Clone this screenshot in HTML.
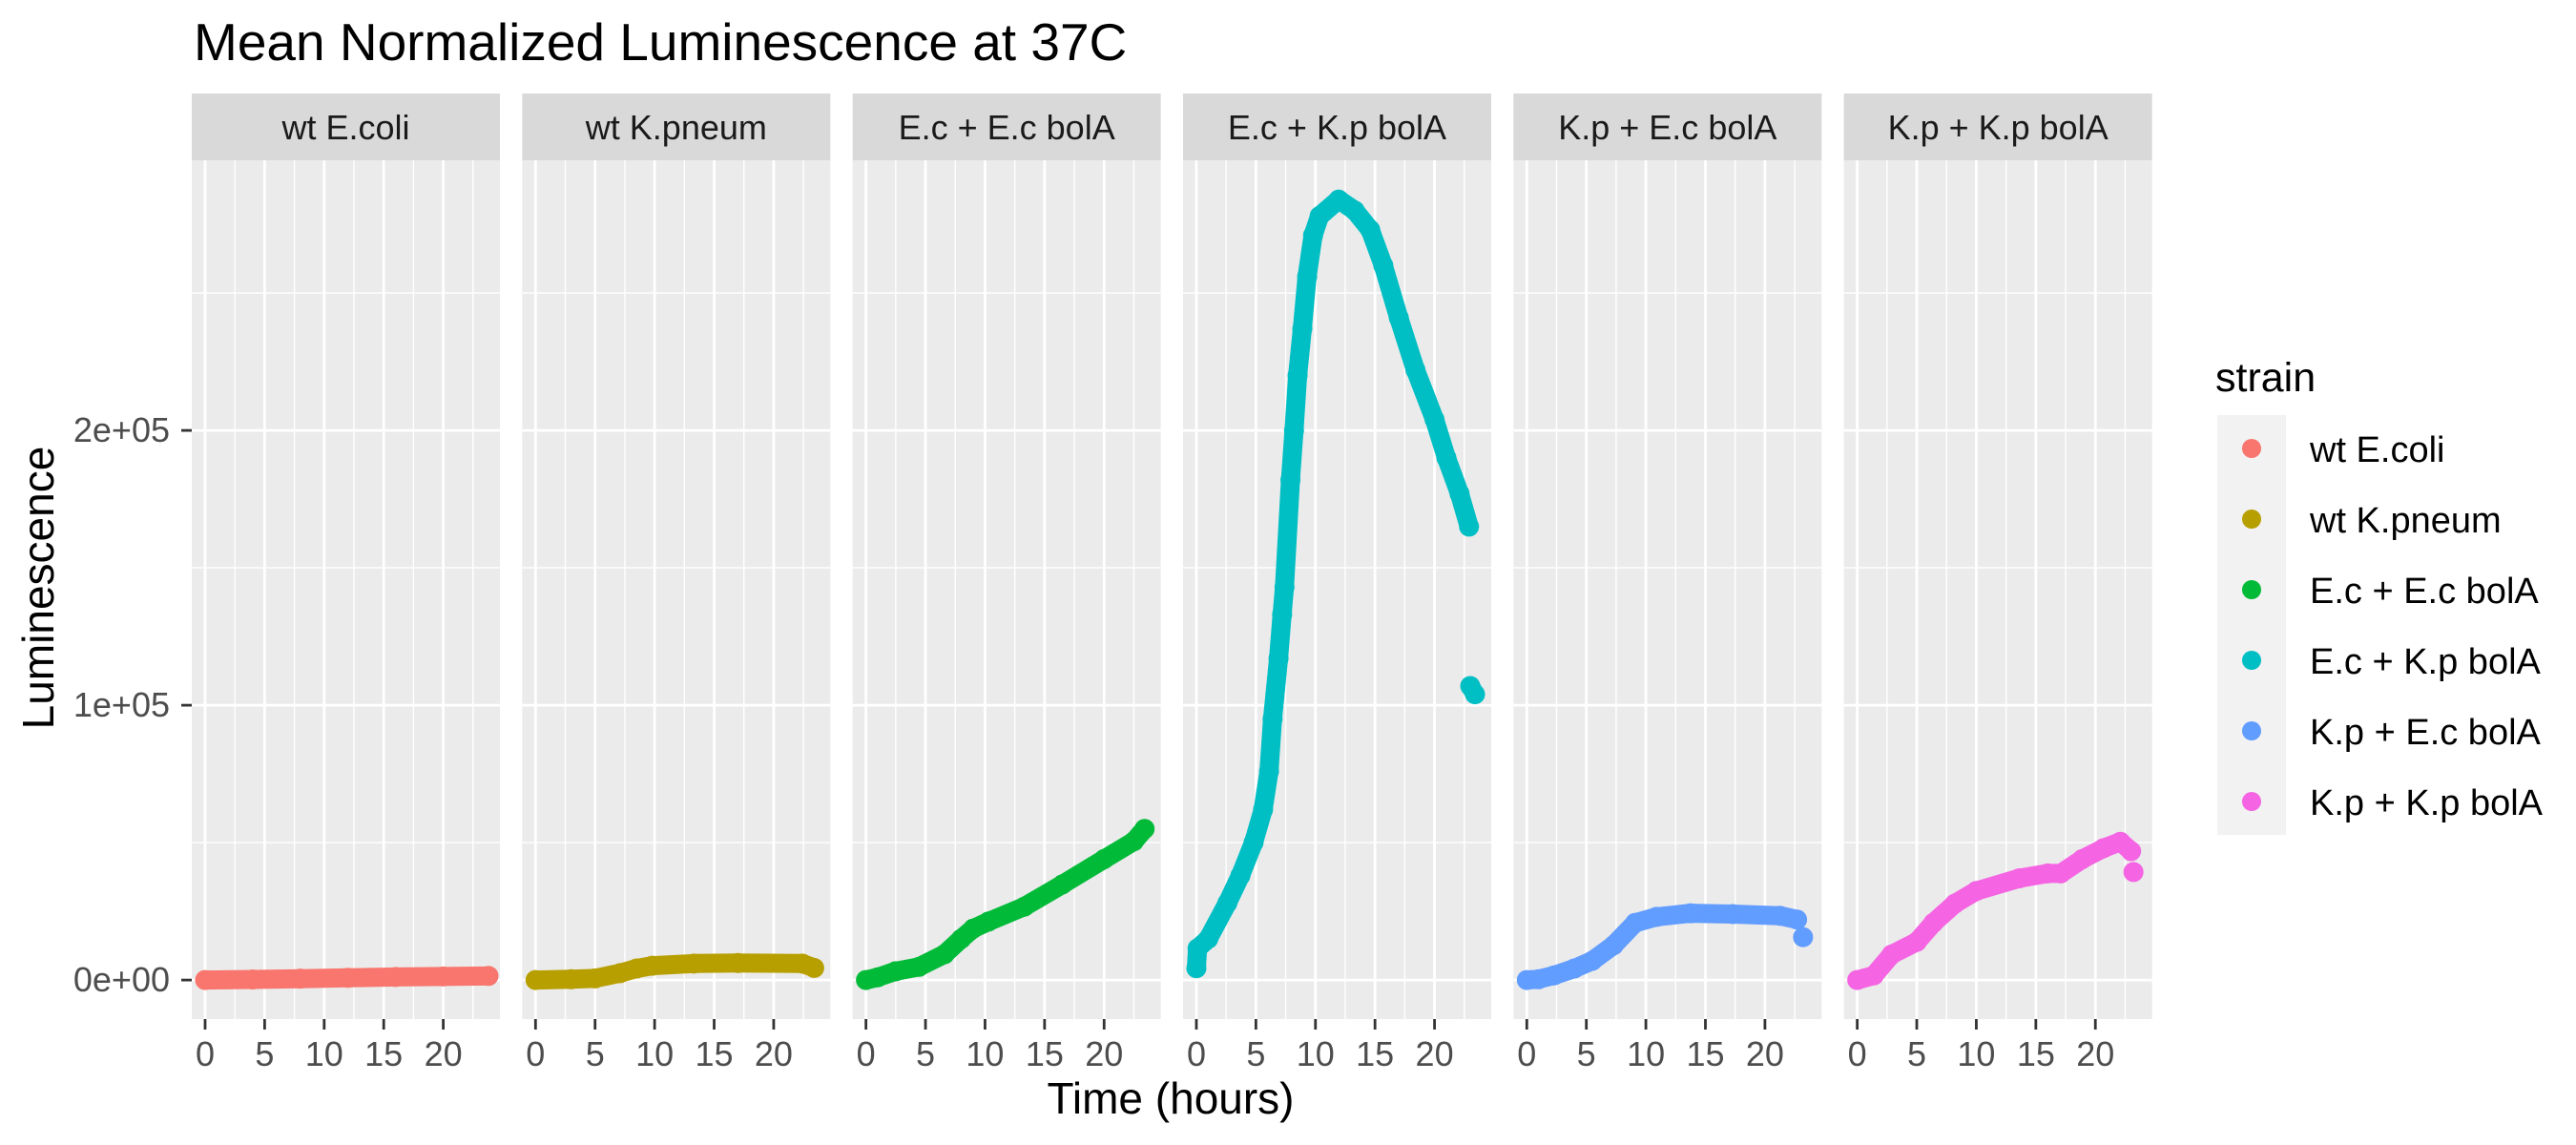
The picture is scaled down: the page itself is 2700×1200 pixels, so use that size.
<!DOCTYPE html>
<html><head><meta charset="utf-8"><style>
html,body{margin:0;padding:0;background:#fff;}
svg{display:block;font-family:"Liberation Sans",sans-serif;}
</style></head><body>
<svg id="chart" width="2700" height="1200" viewBox="0 0 2700 1200" xmlns="http://www.w3.org/2000/svg">
<rect width="2700" height="1200" fill="#ffffff"/>
<text x="203" y="63" font-size="55" fill="#000">Mean Normalized Luminescence at 37C</text>
<text transform="translate(56,616) rotate(-90)" text-anchor="middle" font-size="46" fill="#000">Luminescence</text>
<text x="1227" y="1167" text-anchor="middle" font-size="46" fill="#000">Time (hours)</text>
<g id="panels"></g>
<g id="legend"></g>
</svg>
<script>
const strains = ["wt E.coli","wt K.pneum","E.c + E.c bolA","E.c + K.p bolA","K.p + E.c bolA","K.p + K.p bolA"];
const colors = ["#F8766D","#B79F00","#00BA38","#00BFC4","#619CFF","#F564E3"];
const xTicks = [0,5,10,15,20];
const xTickLabels = ["0","5","10","15","20"];
const yTicks = [0,100000,200000];
const yTickLabels = ["0e+00","1e+05","2e+05"];
// series data (hours, luminescence)
const hours1 = [0,4,8,12,16,20,23.8];
const lum1 = [0,200,500,800,1100,1300,1500];
const hours2 = [0,3,5,7.1,8.5,9.8,13.3,17,22.4,23.4];
const lum2 = [0,300,600,2500,4200,5200,6000,6200,6000,4400];
const hours3 = [0,1,2.5,4.45,6.6,8,9,10.3,13.3,16.5,20,22.5,23.4];
const lum3 = [0,1000,3200,4800,9400,15000,18700,21300,26700,34800,44000,50500,55000];
const hours4 = [0,0.1,1,2.6,3.7,4.8,5.6,6.1,6.4,6.9,7.2,7.4,7.9,8.2,8.5,8.9,9.3,9.8,10.35,11.95,13.3,14.6,15.7,17,18.4,20,21,22.1,22.9];
const lum4 = [4300,11500,15000,28000,38000,50000,62000,76000,95000,117000,133000,143000,182000,200000,220000,237000,256000,271000,278000,284000,280000,273000,260000,241000,222000,204000,190000,177000,165000];
const hours4b = [23.0,23.4];
const lum4b = [107000,104000];
const hours5 = [0,1,2.3,4,5.5,7.3,9.1,10.9,13.75,17.3,21.25,22.7];
const lum5 = [0,300,1700,4200,7000,12700,20800,23000,24300,24000,23400,22000];
const hours5b = [23.2];
const lum5b = [15600];
const hours6 = [0,1.4,2.9,5,6.4,8.2,10,13.6,16,17.1,18.9,20.7,22.1,23];
const lum6 = [0,1700,9300,13900,20800,27800,32400,37000,38800,38800,44000,48000,50300,46900];
const hours6b = [23.2];
const lum6b = [39300];
const seriesHours = [[hours1],[hours2],[hours3],[hours4,hours4b],[hours5,hours5b],[hours6,hours6b]];
const seriesLum = [[lum1],[lum2],[lum3],[lum4,lum4b],[lum5,lum5b],[lum6,lum6b]];

const NS = "http://www.w3.org/2000/svg";
const panelTop = 168, panelBottom = 1068, stripTop = 98, panelW = 323, panelStep = 346.33, firstLeft = 201;
const xMin = -1.12, xMax = 24.76, yMin = -14200, yMax = 298300;
function mk(tag, attrs, parent){ const e=document.createElementNS(NS,tag); for(const k in attrs) e.setAttribute(k,attrs[k]); parent.appendChild(e); return e; }
function xs(left, h){ return left + (h - xMin)/(xMax - xMin)*panelW; }
function ys(v){ return panelBottom - (v - yMin)/(yMax - yMin)*(panelBottom - panelTop); }

const panels = document.getElementById('panels');
strains.forEach((name, i) => {
  const left = firstLeft + i*panelStep;
  const g = mk('g', {}, panels);
  
  
  const bg = mk('rect', {x:left, y:panelTop, width:panelW, height:panelBottom-panelTop, fill:'#ebebeb'}, g);
  
  
  [-50000,50000,150000,250000].forEach(v => { const y=ys(v); if(y>panelTop&&y<panelBottom) mk('line',{x1:left,x2:left+panelW,y1:y,y2:y,stroke:'#fff','stroke-width':1.4},g); });
  [2.5,7.5,12.5,17.5,22.5].forEach(h => { const x=xs(left,h); mk('line',{x1:x,x2:x,y1:panelTop,y2:panelBottom,stroke:'#fff','stroke-width':1.4},g); });
  yTicks.forEach(v => { const y=ys(v); mk('line',{x1:left,x2:left+panelW,y1:y,y2:y,stroke:'#fff','stroke-width':2.8},g); });
  xTicks.forEach((h, k) => {
    const x=xs(left,h);
    mk('line',{x1:x,x2:x,y1:panelTop,y2:panelBottom,stroke:'#fff','stroke-width':2.8},g);
    mk('line',{x1:x,x2:x,y1:panelBottom,y2:panelBottom+11,stroke:'#333','stroke-width':2.8},g);
    const t = mk('text',{x:x,y:1117,'text-anchor':'middle','font-size':36,fill:'#4d4d4d'},g);
    t.textContent = xTickLabels[k];
    
    
  });
  const st = mk('rect',{x:left,y:stripTop,width:panelW,height:panelTop-stripTop,fill:'#d9d9d9'},g);
  
  
  const stt = mk('text',{x:left+panelW/2,y:146,'text-anchor':'middle','font-size':36,fill:'#1a1a1a'},g);
  stt.textContent = name;
  
  
  seriesHours[i].forEach((hs, s) => {
    const ls = seriesLum[i][s];
    const d = hs.map((h, k) => (k ? 'L' : 'M') + xs(left,h).toFixed(1) + ' ' + ys(ls[k]).toFixed(1)).join(' ');
    if (hs.length > 1) {
      const p = mk('path',{d:d,fill:'none',stroke:colors[i],'stroke-width':20,'stroke-linecap':'round','stroke-linejoin':'round'},g);
      
      
    }
    hs.forEach((h, k) => {
      const c = mk('circle',{cx:xs(left,h),cy:ys(ls[k]),r:10.5,fill:colors[i]},g);
      
      
    });
  });
});
const ya = mk('g', {}, panels);


yTicks.forEach((v, k) => {
  const y = ys(v);
  mk('line',{x1:190,x2:201,y1:y,y2:y,stroke:'#333','stroke-width':2.8},ya);
  const t = mk('text',{x:178,y:y+12,'text-anchor':'end','font-size':36,fill:'#4d4d4d'},ya);
  t.textContent = yTickLabels[k];
  
  
});
const lg = document.getElementById('legend');
const lt = mk('text',{x:2322,y:410,'font-size':43,fill:'#000'},lg);
lt.textContent = 'strain';


mk('rect',{x:2324,y:435,width:72,height:440,fill:'#f2f2f2'},lg);
strains.forEach((name, i) => {
  const cy = 470 + i*74;
  const e = mk('g', {}, lg);
  
  
  mk('circle',{cx:2360,cy:cy,r:10,fill:colors[i]},e);
  const t = mk('text',{x:2421,y:cy+14,'font-size':38,fill:'#000'},e);
  t.textContent = name;
});
</script>
</body></html>
